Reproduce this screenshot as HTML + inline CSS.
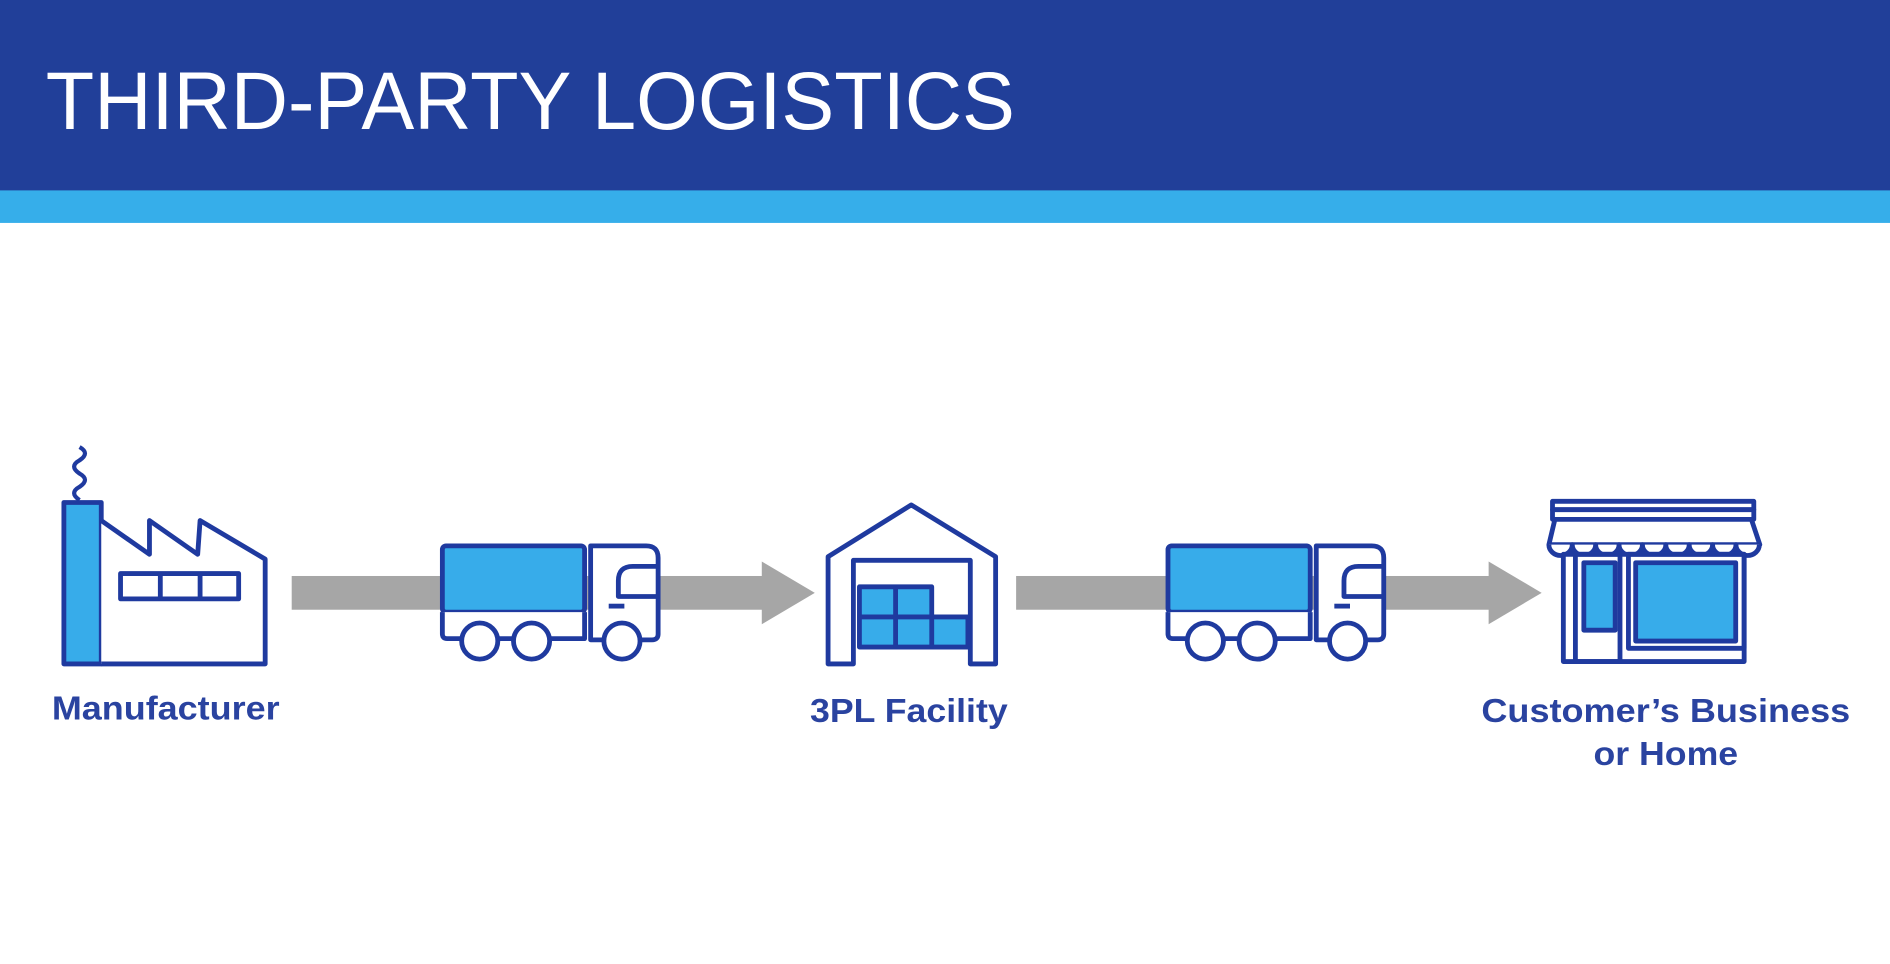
<!DOCTYPE html>
<html><head><meta charset="utf-8"><style>
html,body{margin:0;padding:0;background:#fff;}
svg{display:block;}
</style></head><body>
<svg width="1890" height="964" viewBox="0 0 1568 800" preserveAspectRatio="none" xmlns="http://www.w3.org/2000/svg">
<rect x="0" y="0" width="1568" height="159" fill="#213f99"/>
<rect x="0" y="158" width="1568" height="27" fill="#36aeea"/>
<text x="38" y="107" fill="#fff" font-family="Liberation Sans, sans-serif" font-size="68" textLength="804" lengthAdjust="spacingAndGlyphs">THIRD-PARTY LOGISTICS</text>

<g fill="#a6a6a6">
<rect x="242" y="478" width="392" height="28"/><polygon points="632,466 676,492 632,518"/>
<rect x="843" y="478" width="394" height="28"/><polygon points="1235,466 1279,492 1235,518"/>
</g>

<g stroke="#1f3a9f" stroke-width="4" fill="none" stroke-linejoin="round">
<!-- factory -->
<path d="M66,415 q-9,-6 0,-11 q9,-6 0,-11 q-9,-6 0,-11 q9,-6 0,-11" stroke-width="3.5"/>
<rect x="53" y="417" width="31" height="134" fill="#37acea"/>
<path d="M84,432 L124,460 L124,432 L164,460 L166,432 L220,464 L220,551 L84,551" fill="#fff"/>
<rect x="100" y="476" width="98" height="21"/>
<line x1="133" y1="476" x2="133" y2="497"/><line x1="166" y1="476" x2="166" y2="497"/>

<!-- warehouse -->
<path d="M687,551 L687,462 L756,419 L826,462 L826,551 L805,551 L805,465 L708,465 L708,551 Z" fill="#fff"/>
<rect x="713" y="487" width="60" height="25" fill="#37acea"/>
<line x1="743" y1="487" x2="743" y2="512"/>
<rect x="713" y="512" width="90" height="25" fill="#37acea"/>
<line x1="743" y1="512" x2="743" y2="537"/><line x1="773" y1="512" x2="773" y2="537"/>

<!-- store -->
<rect x="1288" y="416" width="167" height="7" fill="#fff"/>
<rect x="1288" y="423" width="167" height="8" fill="#fff"/>
<path d="M1290,431 L1453,431 L1460,452 L1285,452 Z" fill="#fff"/>
<path d="M1285,452 a9.7,9 0 0 0 19.4,0 a9.7,9 0 0 0 19.4,0 a9.7,9 0 0 0 19.4,0 a9.7,9 0 0 0 19.4,0 a9.7,9 0 0 0 19.4,0 a9.7,9 0 0 0 19.4,0 a9.7,9 0 0 0 19.4,0 a9.7,9 0 0 0 19.4,0 a9.7,9 0 0 0 19.4,0" fill="#fff"/>
<rect x="1297" y="460" width="150" height="89" fill="#fff"/>
<rect x="1307" y="460" width="37" height="89"/>
<rect x="1314" y="467" width="26" height="56" fill="#37acea"/>
<rect x="1351" y="460" width="96" height="78"/>
<rect x="1357" y="467" width="83" height="65" fill="#37acea"/>
</g>

<!-- trucks -->
<g id="truck" stroke="#1f3a9f" stroke-width="4" fill="none" stroke-linejoin="round">
<rect x="367" y="453" width="118" height="55" rx="3" fill="#37acea"/>
<path d="M367,508 L367,526 q0,4 4,4 L485,530 L485,508" fill="#fff"/>
<path d="M490,453 L536,453 q10,0 10,10 L546,526 q0,5 -5,5 L490,531 Z" fill="#fff"/>
<path d="M546,470 L525,470 q-12,0 -12,12 L513,495 L546,495"/>
<line x1="505" y1="503" x2="518" y2="503"/>
<circle cx="398" cy="532" r="15" fill="#fff"/>
<circle cx="441" cy="532" r="15" fill="#fff"/>
<circle cx="516" cy="532" r="15" fill="#fff"/>
</g>
<use href="#truck" transform="translate(602,0)"/>

<g fill="#2a43a0" font-family="Liberation Sans, sans-serif" font-weight="bold" font-size="28" lengthAdjust="spacingAndGlyphs">
<text x="43" y="597" textLength="189" lengthAdjust="spacingAndGlyphs">Manufacturer</text>
<text x="672" y="599" textLength="164" lengthAdjust="spacingAndGlyphs">3PL Facility</text>
<text x="1229" y="599" textLength="306" lengthAdjust="spacingAndGlyphs">Customer’s Business</text>
<text x="1322" y="635" textLength="120" lengthAdjust="spacingAndGlyphs">or Home</text>
</g>
</svg>
</body></html>
